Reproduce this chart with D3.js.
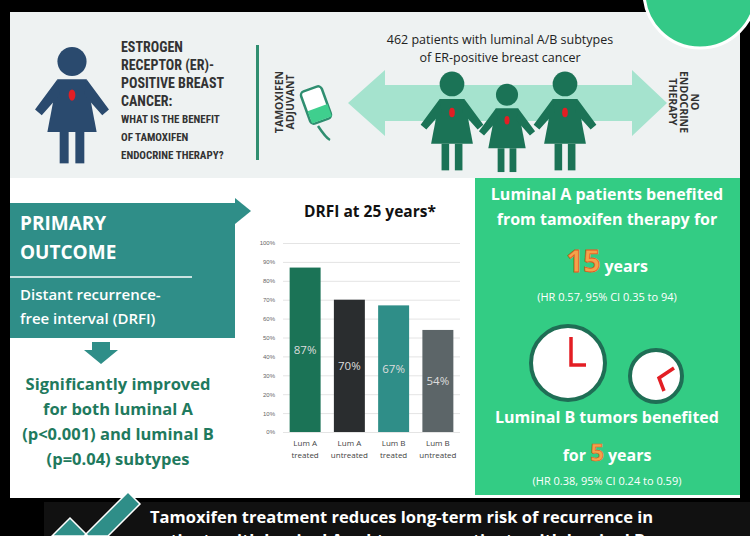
<!DOCTYPE html>
<html><head><meta charset="utf-8">
<script src="https://cdn.jsdelivr.net/npm/d3@7"></script>
<style>html,body{margin:0;padding:0;background:#000;overflow:hidden}svg{display:block;font-family:"Open Sans",sans-serif}</style>
</head><body><div id="chart"></div>
<script>
// Data
const categories = ["Lum A treated", "Lum A untreated", "Lum B treated", "Lum B untreated"];
const drfi = [87, 70, 67, 54];
const barColors = ["#1b7356", "#2a2d2f", "#2f8e88", "#5c6568"];
const yTicks = [0, 10, 20, 30, 40, 50, 60, 70, 80, 90, 100];

const W = 750, H = 536;
const svg = d3.select("#chart").append("svg").attr("width", W).attr("height", H).attr("viewBox", `0 0 ${W} ${H}`);

// background
svg.append("rect").attr("width", W).attr("height", H).attr("fill", "#000");
svg.append("rect").attr("x", 10).attr("y", 12).attr("width", 730).attr("height", 486).attr("fill", "#fff");
svg.append("rect").attr("x", 10).attr("y", 12).attr("width", 730).attr("height", 166).attr("fill", "#eef2f2");
svg.append("circle").attr("cx", 700).attr("cy", -8).attr("r", 56).attr("fill", "#34c987").attr("stroke", "#fff").attr("stroke-width", 3);

// person icon (dress shape)
function person(g, x, y, s, col) {
  const p = g.append("g").attr("transform", `translate(${x},${y}) scale(${s})`).attr("fill", col);
  p.append("circle").attr("cx", 0).attr("cy", -38).attr("r", 13);
  p.append("path").attr("d", "M-13,-22 L13,-22 L22,25 L-22,25 Z");
  p.append("path").attr("d", "M-13,-22 L-33,5 L-27,10 L-11,-8 Z M13,-22 L33,5 L27,10 L11,-8 Z");
  p.append("rect").attr("x", -11).attr("y", 25).attr("width", 8).attr("height", 28);
  p.append("rect").attr("x", 3).attr("y", 25).attr("width", 8).attr("height", 28);
  p.append("ellipse").attr("cx", 0).attr("cy", -8).attr("rx", 3).attr("ry", 5).attr("fill", "#e31e24");
}
person(svg, 72, 104, 1.12, "#2a4a6e");

const topTxt = svg.append("g").attr("fill", "#333").attr("font-family", "'Liberation Sans Narrow','Roboto Condensed',sans-serif").attr("font-weight", "bold");
[["ESTROGEN", 52, 14], ["RECEPTOR (ER)-", 70, 14], ["POSITIVE BREAST", 88, 14], ["CANCER:", 106, 14],
 ["WHAT IS THE BENEFIT", 123, 11], ["OF TAMOXIFEN", 141, 11], ["ENDOCRINE THERAPY?", 159, 11]]
  .forEach(d => topTxt.append("text").attr("x", 121).attr("y", d[1]).attr("font-size", d[2]).text(d[0]));
svg.append("rect").attr("x", 256).attr("y", 45).attr("width", 3).attr("height", 115).attr("fill", "#2f8e70");

svg.append("text").attr("transform", "translate(283,102) rotate(-90)").attr("text-anchor", "middle").attr("font-size", 10.5).attr("font-weight", "bold").attr("fill", "#333")
  .selectAll("tspan").data(["TAMOXIFEN", "ADJUVANT"]).join("tspan").attr("x", 0).attr("dy", (d, i) => i ? 11 : 0).text(d => d);
svg.append("text").attr("transform", "translate(680,102) rotate(90)").attr("text-anchor", "middle").attr("font-size", 10.5).attr("font-weight", "bold").attr("fill", "#333")
  .selectAll("tspan").data(["NO", "ENDOCRINE", "THERAPY"]).join("tspan").attr("x", 0).attr("dy", (d, i) => i ? 11 : -11).text(d => d);

// double arrow
svg.append("path").attr("d", "M348,103 L385,70 L385,85 L632,85 L632,70 L667,103 L632,136 L632,121 L385,121 L385,136 Z").attr("fill", "#a5e3ce");
// iv bag
const bag = svg.append("g").attr("fill", "none").attr("stroke", "#2f8e70").attr("stroke-width", 2.5);
bag.append("rect").attr("x", 305).attr("y", 88).attr("width", 22).attr("height", 34).attr("rx", 4).attr("transform", "rotate(-20 316 105)").attr("fill", "#fff");
bag.append("path").attr("d", "M318,126 Q326,138 330,140");
svg.append("rect").attr("x", 306).attr("y", 108).attr("width", 21).attr("height", 13).attr("transform", "rotate(-20 316 105)").attr("fill", "#3fcf8e");

svg.append("text").attr("x", 500).attr("y", 44).attr("text-anchor", "middle").attr("font-size", 12.5).attr("fill", "#222").text("462 patients with luminal A/B subtypes");
svg.append("text").attr("x", 500).attr("y", 62).attr("text-anchor", "middle").attr("font-size", 12.5).attr("fill", "#222").text("of ER-positive breast cancer");
person(svg, 452, 120, 0.95, "#1b7356");
person(svg, 507, 127, 0.85, "#1b7356");
person(svg, 565, 120, 0.95, "#1b7356");

// primary outcome box
svg.append("rect").attr("x", 10).attr("y", 203).attr("width", 225).attr("height", 135).attr("fill", "#2f8e88");
svg.append("path").attr("d", "M235,198 L251,211 L235,224 Z").attr("fill", "#2f8e88");
const pw = svg.append("g").attr("fill", "#fff").attr("font-weight", "bold");
pw.append("text").attr("x", 20).attr("y", 230).attr("font-size", 19).text("PRIMARY");
pw.append("text").attr("x", 20).attr("y", 259).attr("font-size", 19).text("OUTCOME");
svg.append("line").attr("x1", 10).attr("x2", 192).attr("y1", 277).attr("y2", 277).attr("stroke", "#fff").attr("stroke-width", 1.5);
pw.append("text").attr("x", 20).attr("y", 300).attr("font-size", 15).attr("font-weight", 600).text("Distant recurrence-");
pw.append("text").attr("x", 20).attr("y", 324).attr("font-size", 15).attr("font-weight", 600).text("free interval (DRFI)");
svg.append("path").attr("d", "M92,342 L110,342 L110,350 L118,350 L101,364 L84,350 L92,350 Z").attr("fill", "#2f8e88");
const sig = svg.append("g").attr("fill", "#1f7a5e").attr("font-weight", "bold").attr("font-size", 16.5).attr("text-anchor", "middle");
["Significantly improved", "for both luminal A", "(p<0.001) and luminal B", "(p=0.04) subtypes"]
  .forEach((t, i) => sig.append("text").attr("x", 118).attr("y", 390 + i * 25).text(t));

// bar chart
const m = { left: 283, right: 460, top: 243, bottom: 432 };
const x = d3.scaleBand().domain(categories).range([m.left, m.right]).paddingInner(0.3).paddingOuter(0.15);
const y = d3.scaleLinear().domain([0, 100]).range([m.bottom, m.top]);
svg.append("text").attr("x", 370).attr("y", 217).attr("text-anchor", "middle").attr("font-size", 15.5).attr("font-weight", "bold").attr("fill", "#111").text("DRFI at 25 years*");
const yAxis = svg.append("g").attr("transform", `translate(${m.left},0)`)
  .call(d3.axisLeft(y).tickValues(yTicks).tickFormat(d => d + "%").tickSize(-(m.right - m.left)).tickPadding(8));
yAxis.select(".domain").remove();
yAxis.selectAll(".tick line").attr("stroke", "#e4e4e4");
yAxis.selectAll(".tick text").attr("font-size", 6).attr("fill", "#666");
svg.selectAll(".bar").data(categories).join("rect")
  .attr("x", d => x(d)).attr("width", x.bandwidth())
  .attr("y", (d, i) => y(drfi[i])).attr("height", (d, i) => y(0) - y(drfi[i]))
  .attr("fill", (d, i) => barColors[i]);
svg.selectAll(".bl").data(categories).join("text")
  .attr("x", d => x(d) + x.bandwidth() / 2).attr("y", (d, i) => y(drfi[i]) + (y(0) - y(drfi[i])) / 2 + 4)
  .attr("text-anchor", "middle").attr("font-size", 11.5).attr("fill", "#ddd").text((d, i) => drfi[i] + "%");
categories.forEach(c => {
  const parts = c.split(" ");
  const t = svg.append("text").attr("x", x(c) + x.bandwidth() / 2).attr("y", 446).attr("text-anchor", "middle").attr("font-size", 8).attr("fill", "#444");
  t.append("tspan").attr("x", x(c) + x.bandwidth() / 2).text(parts[0] + " " + parts[1]);
  t.append("tspan").attr("x", x(c) + x.bandwidth() / 2).attr("dy", 12).text(parts[2]);
});

// green panel
svg.append("rect").attr("x", 475).attr("y", 178).attr("width", 265).attr("height", 317).attr("fill", "#33cc84");
const gp = svg.append("g").attr("fill", "#fff").attr("text-anchor", "middle").attr("font-weight", "bold");
gp.append("text").attr("x", 607).attr("y", 200).attr("font-size", 16).text("Luminal A patients benefited");
gp.append("text").attr("x", 607).attr("y", 225).attr("font-size", 16).text("from tamoxifen therapy for");
const t15 = gp.append("text").attr("x", 607).attr("y", 272);
t15.append("tspan").attr("font-size", 30).attr("fill", "#f4a24a").attr("stroke", "#e8541c").attr("stroke-width", 0.8).text("15");
t15.append("tspan").attr("font-size", 16).attr("dx", 4).text("years");
gp.append("text").attr("x", 607).attr("y", 301).attr("font-size", 11).attr("font-weight", "normal").text("(HR 0.57, 95% CI 0.35 to 94)");
function clock(cx, cy, r, hands) {
  svg.append("circle").attr("cx", cx).attr("cy", cy).attr("r", r).attr("fill", "#fff").attr("stroke", "#1f6e55").attr("stroke-width", 4);
  svg.append("path").attr("d", hands).attr("fill", "none").attr("stroke", "#e31e24").attr("stroke-width", 3.5);
}
clock(568, 363, 37, "M571,337 L571,365 L586,365");
clock(656, 376, 26, "M674,368 L659,378 L664,391");
gp.append("text").attr("x", 607).attr("y", 423).attr("font-size", 16).text("Luminal B tumors benefited");
const t5 = gp.append("text").attr("x", 607).attr("y", 461);
t5.append("tspan").attr("font-size", 16).text("for ");
t5.append("tspan").attr("font-size", 24).attr("fill", "#f4a24a").attr("stroke", "#e8541c").attr("stroke-width", 0.6).text("5");
t5.append("tspan").attr("font-size", 16).attr("dx", 4).text("years");
gp.append("text").attr("x", 607).attr("y", 485).attr("font-size", 11).attr("font-weight", "normal").text("(HR 0.38, 95% CI 0.24 to 0.59)");

// bottom band
svg.append("rect").attr("x", 44).attr("y", 502).attr("width", 706).attr("height", 40).attr("fill", "#111");
svg.append("path").attr("d", "M52,536 L70,518 L88,536 Z M84,536 L128,492 L140,504 L108,536 Z").attr("fill", "#2f8e88").attr("stroke", "#fff").attr("stroke-width", 1.5);
svg.append("text").attr("x", 150).attr("y", 523).attr("font-size", 16.5).attr("font-weight", "bold").attr("fill", "#fff").text("Tamoxifen treatment reduces long-term risk of recurrence in");
svg.append("text").attr("x", 150).attr("y", 546).attr("font-size", 16.5).attr("font-weight", "bold").attr("fill", "#fff").text("patients with luminal A subtypes vs. patients with luminal B");
</script></body></html>
